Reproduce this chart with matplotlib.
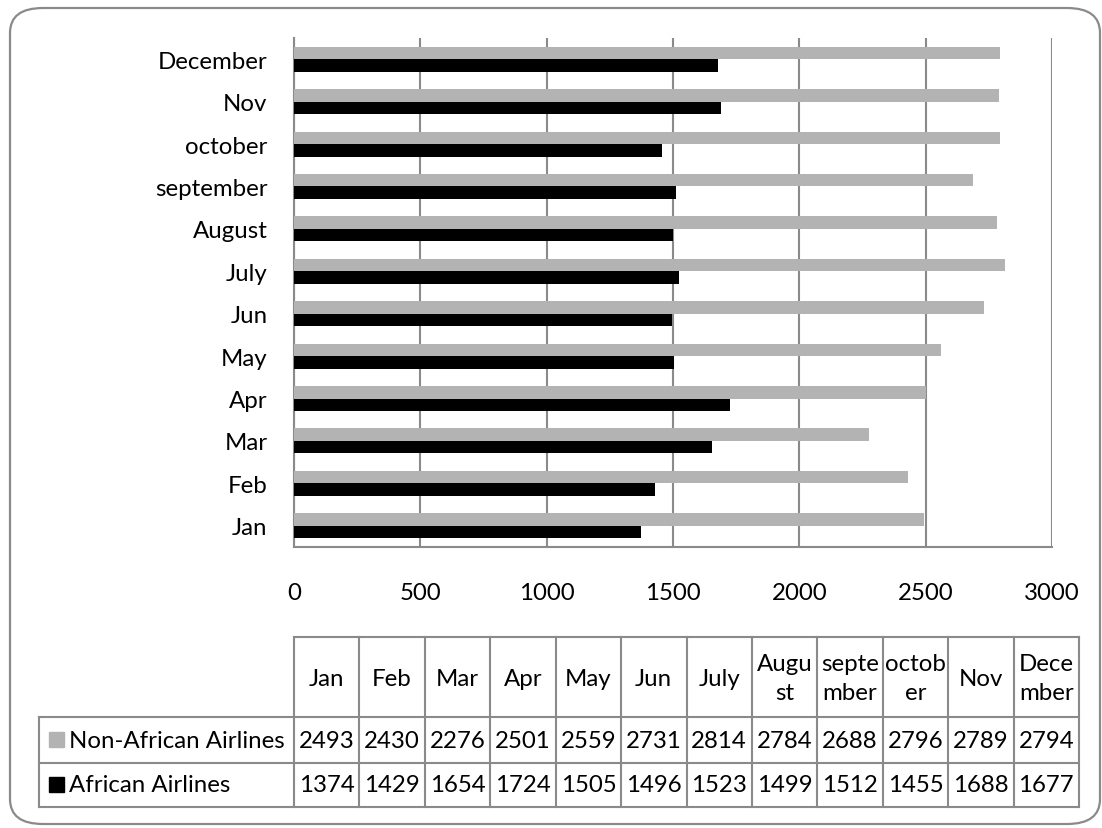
import numpy as np
import matplotlib
matplotlib.use("Agg")
from matplotlib import pyplot as plt
from matplotlib.patches import FancyBboxPatch, Rectangle

plt.rcParams['font.family'] = ['Lato', 'DejaVu Sans']

months = ['Jan', 'Feb', 'Mar', 'Apr', 'May', 'Jun', 'July', 'August',
          'september', 'october', 'Nov', 'December']
# header cells wrap the long month names
month_heads = ['Jan', 'Feb', 'Mar', 'Apr', 'May', 'Jun', 'July', 'Augu\nst',
               'septe\nmber', 'octob\ner', 'Nov', 'Dece\nmber']
non_african = [2493, 2430, 2276, 2501, 2559, 2731, 2814, 2784, 2688, 2796, 2789, 2794]
african = [1374, 1429, 1654, 1724, 1505, 1496, 1523, 1499, 1512, 1455, 1688, 1677]
series_names = ['Non-African Airlines', 'African Airlines']
xticks = [0, 500, 1000, 1500, 2000, 2500, 3000]

GRAY = '#b3b3b3'
LINE = '#8a8a8a'
FS = 17.3

W, H = 1102, 829
fig = plt.figure(figsize=(W / 100, H / 100), dpi=100)

# outer frame with rounded corners
frame = FancyBboxPatch((10 / W, 4 / H), (W - 12) / W, (H - 13) / H,
                       boxstyle="round,pad=0,rounding_size=0.03",
                       transform=fig.transFigure, fill=False,
                       edgecolor=LINE, linewidth=1.6)
fig.patches.append(frame)

# bar chart
left, right, top, bottom = 294, 1052, 39, 548
ax = fig.add_axes([left / W, 1 - bottom / H, (right - left) / W, (bottom - top) / H])
y = np.arange(len(months))
h = 0.295
ax.barh(y + h / 2, non_african, height=h, color=GRAY, zorder=3)
ax.barh(y - h / 2, african, height=h, color='black', zorder=3)
ax.set_ylim(-0.5, len(months) - 0.5)
ax.set_xlim(0, 3000)
ax.set_xticks(xticks)
ax.set_yticks(y)
ax.set_yticklabels(months)
ax.grid(axis='x', color=LINE, linewidth=1.5, zorder=0)
ax.tick_params(axis='both', length=0, labelsize=FS)
ax.tick_params(axis='x', pad=25)
ax.tick_params(axis='y', pad=19)
for s in ['top', 'right']:
    ax.spines[s].set_visible(False)
for s in ['left', 'bottom']:
    ax.spines[s].set_color(LINE)
    ax.spines[s].set_linewidth(1.5)

# data table drawn underneath in pixel coordinates
tab = fig.add_axes([0, 0, 1, 1])
tab.set_xlim(0, W)
tab.set_ylim(H, 0)
tab.axis('off')

col0, col1, colw = 39, 294, (1079 - 294) / 12
row_y = [638, 718, 764, 808]
col_x = [col1 + i * colw for i in range(13)]

kw = dict(color=LINE, linewidth=1.5)
# header row (no label cell)
tab.plot([col1, col_x[-1]], [row_y[0]] * 2, **kw)
for x in col_x:
    tab.plot([x, x], [row_y[0], row_y[-1]], **kw)
for yy in row_y[1:]:
    tab.plot([col0, col_x[-1]], [yy, yy], **kw)
tab.plot([col0, col0], [row_y[1], row_y[-1]], **kw)

for i, lab in enumerate(month_heads):
    tab.text(col1 + (i + 0.5) * colw, (row_y[0] + row_y[1]) / 2 + 1, lab,
             ha='center', va='center', fontsize=FS, linespacing=1.45)

for r, (name, vals, c) in enumerate(zip(series_names, [non_african, african], [GRAY, 'black'])):
    yc = (row_y[r + 1] + row_y[r + 2]) / 2
    tab.add_patch(Rectangle((49, yc - 8), 15, 15, color=c))
    tab.text(69, yc, name, ha='left', va='center', fontsize=FS)
    for i, v in enumerate(vals):
        tab.text(col1 + (i + 0.5) * colw, yc, str(v), ha='center', va='center', fontsize=FS)

plt.savefig("out.png", dpi=100)
